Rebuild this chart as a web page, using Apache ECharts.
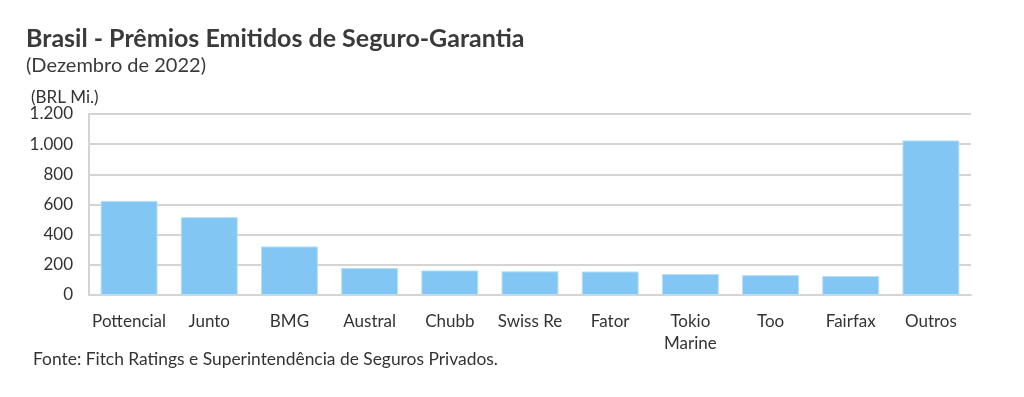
<!DOCTYPE html>
<html>
<head>
<meta charset="utf-8">
<script src="https://cdn.jsdelivr.net/npm/echarts@6/dist/echarts.min.js"></script>
<style>
  html, body { margin: 0; padding: 0; background: #fff; }
  #chart { width: 1024px; height: 397px; }
</style>
</head>
<body>
<div id="chart"></div>
<script>
var categories = ['Pottencial', 'Junto', 'BMG', 'Austral', 'Chubb', 'Swiss Re', 'Fator', 'Tokio\nMarine', 'Too', 'Fairfax', 'Outros'];
var premios = [624, 516, 322, 179, 163, 157, 156, 139, 132, 126, 1025];
var yTicks = [0, 200, 400, 600, 800, 1000, 1200];

function run() {
    var chart = echarts.init(document.getElementById('chart'));
    var font = 'Lato, "Open Sans", sans-serif';

    // separador de milhar no formato brasileiro
    function fmt(v) {
        return String(v).replace(/\B(?=(\d{3})+(?!\d))/g, '.');
    }

    var option = {
        animation: false,
        textStyle: { fontFamily: font },
        title: [
            { text: 'Brasil - Prêmios Emitidos de Seguro-Garantia', left: 21, top: 21,
              textStyle: { fontFamily: font, fontSize: 25, fontWeight: 'bold', color: '#3a3a3a' } },
            { text: '(Dezembro de 2022)', left: 21, top: 51,
              textStyle: { fontFamily: font, fontSize: 20, fontWeight: 'normal', color: '#3a3a3a' } },
            { text: '(BRL Mi.)', left: 26, top: 84,
              textStyle: { fontFamily: font, fontSize: 17, fontWeight: 'normal', color: '#333' } },
            { text: 'Fonte: Fitch Ratings e Superintendência de Seguros Privados.', left: 28, top: 346,
              textStyle: { fontFamily: font, fontSize: 17.4, fontWeight: 'normal', color: '#333' } }
        ],
        grid: { left: 89, right: 53, top: 114, bottom: 102 },
        xAxis: {
            type: 'category',
            data: categories,
            axisLine: { show: true, lineStyle: { color: '#d4d4d4', width: 2 } },
            axisTick: { show: false },
            axisLabel: { interval: 0, fontFamily: font, fontSize: 17, color: '#333', margin: 16, lineHeight: 22 }
        },
        yAxis: {
            type: 'value',
            min: yTicks[0],
            max: yTicks[yTicks.length - 1],
            interval: 200,
            axisLine: { show: true, lineStyle: { color: '#d4d4d4', width: 2 } },
            axisTick: { show: false },
            splitLine: { lineStyle: { color: '#d4d4d4', width: 2 } },
            axisLabel: { fontFamily: font, fontSize: 17, color: '#333', margin: 16, formatter: fmt }
        },
        series: [{
            type: 'bar',
            data: premios,
            barCategoryGap: '29%',
            itemStyle: { color: '#82c6f3', borderColor: '#b9def8', borderWidth: 1 }
        }]
    };
    chart.setOption(option);
}

if (document.readyState !== 'loading') {
    run();
} else {
    document.addEventListener('DOMContentLoaded', run);
}
</script>
</body>
</html>
